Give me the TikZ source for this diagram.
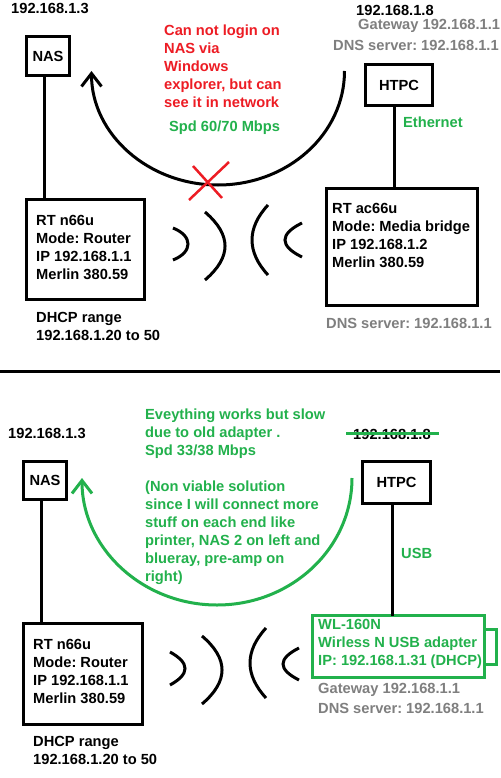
\documentclass[tikz,border=0pt]{standalone}
\usepackage{fontspec}
\setmainfont{Liberation Sans}
\usetikzlibrary{arrows.meta}
\definecolor{pgreen}{RGB}{34,177,76}
\definecolor{pred}{RGB}{237,28,36}
\definecolor{pgray}{RGB}{127,127,127}
\frenchspacing
\tikzset{
  box/.style={draw, rectangle, line width=3pt, inner sep=0pt, outer sep=0pt, font=\bfseries\fontsize{14.67}{18}\selectfont},
  txt/.style={inner sep=0pt, anchor=base west, font=\bfseries\fontsize{14.67}{18}\selectfont},
  wire/.style={line width=3pt},
  wave/.style={line width=3pt},
  arr/.style={line width=3pt, -{Straight Barb[length=13pt,width=20pt]}},
}
\newcommand{\lines}[1]{\begin{tabular}[t]{@{}l@{}}#1\end{tabular}}
\begin{document}
\begin{tikzpicture}[x=1pt,y=1pt]
\fill[white] (0,0) rectangle (500,-778);
\useasboundingbox (0,0) rectangle (500,-778);

% ---------------- top ----------------
\node[box, minimum width=43, minimum height=39] (nasA) at (48,-56) {NAS};
\node[box, minimum width=118, minimum height=100] (rtA) at (85.5,-249.5) {};
\node[box, minimum width=151, minimum height=117] (acA) at (402,-247) {};
\node[box, minimum width=67, minimum height=41] (htpcA) at (399,-85) {HTPC};

\draw[wire] ([xshift=-4pt]nasA.south) -- ([xshift=-4pt]nasA.south |- rtA.north);
\draw[wire] ([xshift=-5pt]htpcA.south) -- ([xshift=-5pt]htpcA.south |- acA.north);

\node[txt] (ipnasA) at (11,-14) {192.168.1.3};
\node[txt] (rtAtxt) at (36,-225) {\lines{RT n66u\\Mode: Router\\IP 192.168.1.1\\Merlin 380.59}};
\node[txt] (dhcpA) at (36,-322) {\lines{DHCP range\\192.168.1.20 to 50}};
\node[txt, text=pred] (errA) at (164,-36) {\lines{Can not login on\\NAS via\\Windows\\explorer, but can\\see it in network}};
\node[txt, text=pgreen] (spdA) at (169,-132) {Spd 60/70 Mbps};
\node[txt] (iphtpcA) at (356,-16) {192.168.1.8};
\node[txt, text=pgray] (gwA) at (358,-30) {Gateway 192.168.1.1};
\node[txt, text=pgray] (dnsA) at (333,-51) {DNS server: 192.168.1.1};
\node[txt, text=pgreen] (ethA) at (403,-128) {Ethernet};
\node[txt] (acAtxt) at (332,-213) {\lines{RT ac66u\\Mode: Media bridge\\IP 192.168.1.2\\Merlin 380.59}};
\node[txt, text=pgray] (dnsAb) at (326,-328) {DNS server: 192.168.1.1};

% waves top
\draw[wave] (173,-228) .. controls (193,-236) and (193,-252) .. (173,-260);
\draw[wave] (205,-212) .. controls (231.7,-235) and (231.7,-257) .. (205,-280);
\draw[wave] (268,-205) .. controls (246.7,-228) and (246.7,-252) .. (268,-275);
\draw[wave] (302,-223) .. controls (279.3,-234) and (279.3,-246) .. (302,-257);

% arrow top
\coordinate (aAs) at (344.5,-71);
\draw[arr] (aAs) arc[start angle=0, end angle=-180, x radius=126.5, y radius=114];
\draw[pred, line width=2.5pt] (189,-200) -- (229,-162);
\draw[pred, line width=2.5pt] (193,-166) -- (222,-198);

% separator
\draw[line width=3pt] (0,-371) -- (500,-371);

% ---------------- bottom ----------------
\node[box, minimum width=43, minimum height=38] (nasB) at (45,-480.5) {NAS};
\node[box, minimum width=119.3, minimum height=101] (rtB) at (82.9,-673.7) {};
\node[box, minimum width=68, minimum height=42] (htpcB) at (396.5,-482.5) {HTPC};
\node[box, draw=pgreen, minimum width=171.7, minimum height=61.7] (wlB) at (398.35,-646.65) {};
\draw[pgreen, line width=3pt] ([yshift=17.15pt]wlB.east) -- ++(12.3,0) -- ++(0,-35) -- ++(-12.3,0);

\draw[wire] ([xshift=-4pt]nasB.south) -- ([xshift=-4pt]nasB.south |- rtB.north);
\draw[wire] ([xshift=-4.5pt]htpcB.south) -- ([xshift=-4.5pt]htpcB.south |- wlB.north);

\node[txt] (ipnasB) at (8,-438) {192.168.1.3};
\node[txt, text=pgreen] (noteB) at (145,-419) {\lines{Eveything works but slow\\due to old adapter .\\Spd 33/38 Mbps\\ \\(Non viable solution\\since I will connect more\\stuff on each end like\\printer, NAS 2 on left and\\blueray, pre-amp on\\right)}};
\node[txt] (iphtpcB) at (353,-439) {192.168.1.8};
\draw[pgreen, line width=3pt] (346,-433) -- (439,-433);
\node[txt, text=pgreen] (usbB) at (401,-558) {USB};
\node[txt, text=pgreen] (wlBtxt) at (318,-629) {\lines{WL-160N\\Wirless N USB adapter\\IP: 192.168.1.31 (DHCP)}};
\node[txt, text=pgray] (gwB) at (318,-693) {Gateway 192.168.1.1};
\node[txt, text=pgray] (dnsB) at (318,-713) {DNS server: 192.168.1.1};
\node[txt] (rtBtxt) at (33,-649) {\lines{RT n66u\\Mode: Router\\IP 192.168.1.1\\Merlin 380.59}};
\node[txt] (dhcpB) at (33,-746) {\lines{DHCP range\\192.168.1.20 to 50}};

% waves bottom
\draw[wave] (170,-652) .. controls (190,-663) and (190,-674) .. (170,-685);
\draw[wave] (202,-636) .. controls (228.7,-658.7) and (228.7,-681.3) .. (202,-704);
\draw[wave] (266,-628) .. controls (244.7,-651.3) and (244.7,-674.7) .. (266,-698);
\draw[wave] (299,-648) .. controls (277.7,-658.7) and (277.7,-669.3) .. (299,-680);

% arrow bottom
\coordinate (aBs) at (352,-478);
\draw[arr, pgreen] (aBs) arc[start angle=0, end angle=-180, x radius=135, y radius=127];
\end{tikzpicture}
\end{document}
